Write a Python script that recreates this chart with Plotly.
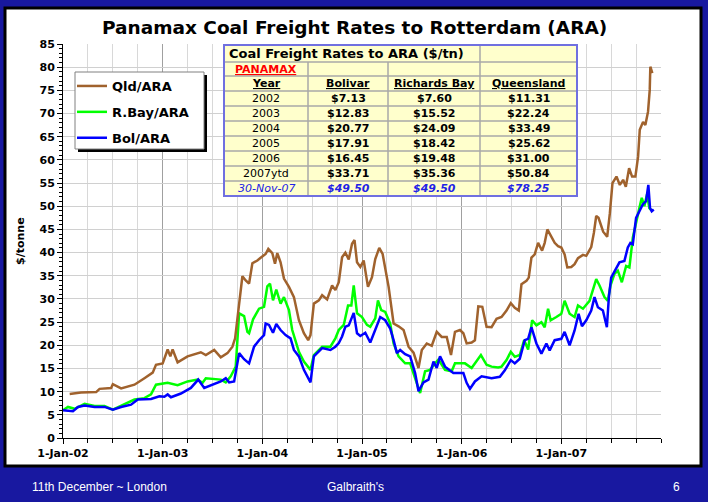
import plotly.graph_objects as go

# ---------------- data (decimal years, $/tonne) ----------------
qld_t = [2002.067, 2002.18, 2002.333, 2002.367, 2002.483, 2002.5, 2002.583, 2002.717, 2002.817, 2002.9,
         2002.933, 2003.0, 2003.05, 2003.077, 2003.1, 2003.15, 2003.25, 2003.383, 2003.433, 2003.517,
         2003.583, 2003.65, 2003.7, 2003.727, 2003.76, 2003.8, 2003.833, 2003.867, 2003.9, 2003.95,
         2003.983, 2004.033, 2004.06, 2004.1, 2004.127, 2004.15, 2004.183, 2004.217, 2004.267, 2004.317,
         2004.367, 2004.417, 2004.46, 2004.483, 2004.517, 2004.567, 2004.6, 2004.65, 2004.7, 2004.733,
         2004.767, 2004.8, 2004.833, 2004.867, 2004.9, 2004.925, 2004.95, 2004.983, 2005.017, 2005.06,
         2005.1, 2005.133, 2005.173, 2005.207, 2005.267, 2005.317, 2005.367, 2005.417, 2005.467, 2005.517,
         2005.567, 2005.6, 2005.65, 2005.7, 2005.75, 2005.8, 2005.85, 2005.893, 2005.933, 2005.983,
         2006.017, 2006.05, 2006.1, 2006.133, 2006.167, 2006.207, 2006.25, 2006.3, 2006.35, 2006.4,
         2006.45, 2006.493, 2006.533, 2006.573, 2006.6, 2006.65, 2006.673, 2006.7, 2006.733, 2006.767,
         2006.807, 2006.833, 2006.86, 2006.9, 2006.933, 2006.967, 2007.0, 2007.033, 2007.06, 2007.1,
         2007.133, 2007.167, 2007.217, 2007.25, 2007.3, 2007.327, 2007.35, 2007.373, 2007.42, 2007.46,
         2007.487, 2007.513, 2007.553, 2007.587, 2007.62, 2007.647, 2007.68, 2007.71, 2007.743, 2007.77,
         2007.787, 2007.82, 2007.843, 2007.87, 2007.887, 2007.893, 2007.913]
qld_v = [9.5, 9.8, 9.9, 10.6, 10.8, 11.6, 10.7, 11.5, 12.9, 14.1,
         15.8, 16.1, 19.1, 17.6, 19.1, 16.3, 17.6, 18.5, 17.9, 19.0,
         17.4, 18.3, 19.7, 21.5, 27.6, 34.9, 34.0, 33.3, 37.7, 38.3,
         38.9, 39.7, 40.8, 39.9, 37.6, 39.9, 37.9, 34.4, 32.6, 30.4,
         25.4, 22.6, 21.1, 22.2, 29.0, 29.7, 30.8, 29.9, 32.9, 31.9,
         33.6, 39.0, 40.0, 38.5, 41.9, 42.7, 37.9, 36.9, 38.3, 32.6,
         34.7, 38.6, 41.0, 39.7, 32.6, 24.7, 24.1, 23.3, 19.7, 18.4,
         15.1, 19.0, 20.4, 19.9, 22.9, 21.8, 21.8, 17.9, 22.9, 23.3,
         22.6, 20.4, 20.6, 21.1, 28.4, 28.3, 24.0, 23.9, 25.7, 26.1,
         27.5, 29.1, 28.1, 27.5, 33.2, 33.9, 34.6, 38.9, 39.6, 42.1,
         40.4, 42.1, 45.0, 43.4, 42.1, 41.4, 41.1, 39.6, 36.8, 36.9,
         37.5, 38.8, 39.5, 39.3, 41.2, 44.3, 47.9, 47.5, 44.5, 43.4,
         48.5, 55.0, 56.4, 54.6, 55.7, 54.2, 58.2, 56.4, 56.4, 60.7,
         66.5, 68.2, 67.5, 70.4, 75.1, 80.1, 78.7]

rbay_t = [2002.0, 2002.05, 2002.117, 2002.217, 2002.317, 2002.417, 2002.5, 2002.617, 2002.717, 2002.817,
          2002.883, 2002.933, 2003.05, 2003.15, 2003.25, 2003.35, 2003.4, 2003.433, 2003.5, 2003.583,
          2003.633, 2003.683, 2003.733, 2003.767, 2003.817, 2003.85, 2003.867, 2003.907, 2003.967, 2004.017,
          2004.05, 2004.077, 2004.107, 2004.14, 2004.183, 2004.217, 2004.267, 2004.3, 2004.367, 2004.417,
          2004.483, 2004.517, 2004.6, 2004.683, 2004.733, 2004.767, 2004.817, 2004.86, 2004.893, 2004.917,
          2004.95, 2005.0, 2005.05, 2005.083, 2005.133, 2005.16, 2005.193, 2005.233, 2005.283, 2005.317,
          2005.367, 2005.433, 2005.483, 2005.54, 2005.583, 2005.633, 2005.683, 2005.733, 2005.767, 2005.833,
          2005.9, 2005.933, 2006.033, 2006.1, 2006.15, 2006.193, 2006.25, 2006.3, 2006.367, 2006.4,
          2006.45, 2006.493, 2006.533, 2006.583, 2006.627, 2006.667, 2006.707, 2006.75, 2006.8, 2006.833,
          2006.867, 2006.893, 2006.95, 2007.0, 2007.033, 2007.083, 2007.133, 2007.167, 2007.217, 2007.283,
          2007.35, 2007.383, 2007.433, 2007.467, 2007.493, 2007.533, 2007.567, 2007.607, 2007.65, 2007.683,
          2007.717, 2007.75, 2007.783, 2007.807, 2007.833, 2007.86, 2007.883, 2007.917]
rbay_v = [6.0, 6.7, 6.3, 7.4, 6.9, 6.9, 6.1, 7.2, 8.3, 8.6,
          9.4, 11.5, 11.9, 11.4, 12.2, 12.6, 11.9, 12.9, 12.8, 12.6,
          12.0, 13.3, 15.4, 26.9, 26.3, 22.9, 22.6, 25.6, 27.9, 28.3,
          32.7, 33.3, 29.7, 32.0, 29.0, 30.4, 27.6, 23.3, 18.6, 16.5,
          14.7, 17.9, 19.7, 19.7, 21.5, 23.3, 24.4, 28.6, 28.6, 32.9,
          26.9, 26.1, 24.4, 24.0, 25.8, 29.7, 27.6, 27.2, 24.7, 20.4,
          17.6, 16.1, 16.1, 12.6, 9.7, 14.4, 14.7, 16.1, 16.9, 14.7,
          14.4, 16.1, 16.1, 15.1, 16.5, 17.9, 15.8, 15.4, 15.2, 15.4,
          16.8, 18.6, 17.5, 17.9, 21.1, 19.1, 25.4, 24.3, 25.0, 23.9,
          27.9, 25.4, 26.1, 26.8, 29.6, 26.8, 26.1, 28.6, 27.9, 29.6,
          34.3, 32.9, 30.4, 29.6, 32.9, 35.4, 36.1, 33.6, 37.1, 36.8,
          43.2, 46.8, 49.6, 51.8, 50.0, 52.6, 49.6, 48.9]

bol_t = [2002.0, 2002.1, 2002.15, 2002.217, 2002.317, 2002.417, 2002.5, 2002.583, 2002.683, 2002.75,
         2002.883, 2002.967, 2003.017, 2003.05, 2003.083, 2003.183, 2003.283, 2003.357, 2003.417, 2003.517,
         2003.583, 2003.633, 2003.667, 2003.717, 2003.767, 2003.817, 2003.867, 2003.917, 2003.967, 2004.017,
         2004.033, 2004.067, 2004.107, 2004.14, 2004.183, 2004.233, 2004.283, 2004.317, 2004.367, 2004.417,
         2004.483, 2004.517, 2004.6, 2004.683, 2004.733, 2004.767, 2004.8, 2004.833, 2004.867, 2004.917,
         2004.95, 2004.983, 2005.033, 2005.083, 2005.133, 2005.183, 2005.233, 2005.283, 2005.317, 2005.35,
         2005.383, 2005.433, 2005.483, 2005.533, 2005.567, 2005.617, 2005.667, 2005.717, 2005.75, 2005.783,
         2005.833, 2005.917, 2006.017, 2006.05, 2006.083, 2006.133, 2006.2, 2006.3, 2006.383, 2006.433,
         2006.493, 2006.533, 2006.583, 2006.633, 2006.667, 2006.7, 2006.75, 2006.8, 2006.85, 2006.883,
         2006.933, 2007.0, 2007.033, 2007.083, 2007.133, 2007.173, 2007.207, 2007.25, 2007.3, 2007.333,
         2007.367, 2007.417, 2007.457, 2007.477, 2007.5, 2007.55, 2007.583, 2007.633, 2007.667, 2007.693,
         2007.717, 2007.75, 2007.783, 2007.817, 2007.85, 2007.873, 2007.89, 2007.907, 2007.927]
bol_v = [6.0, 5.8, 6.7, 7.0, 6.7, 6.7, 6.1, 6.7, 7.2, 8.3,
         8.4, 9.0, 8.9, 9.4, 8.8, 9.6, 10.8, 12.6, 10.8, 11.7,
         12.2, 12.9, 12.0, 12.2, 18.3, 17.0, 16.1, 19.7, 21.1, 22.2,
         24.7, 24.4, 22.7, 24.6, 23.3, 22.2, 21.5, 19.0, 17.6, 14.7,
         12.0, 17.6, 19.4, 19.0, 19.7, 20.5, 21.9, 24.0, 24.3, 27.0,
         22.6, 22.0, 22.7, 20.6, 23.3, 26.1, 25.4, 23.6, 21.1, 18.3,
         19.0, 18.1, 17.6, 14.0, 10.1, 12.0, 12.6, 16.5, 15.1, 17.6,
         15.4, 14.0, 14.0, 11.9, 10.6, 12.2, 13.3, 12.9, 13.2, 14.6,
         16.8, 16.1, 17.1, 21.1, 21.4, 23.9, 20.4, 18.2, 20.4, 18.9,
         21.1, 21.4, 22.9, 20.0, 23.2, 26.8, 24.1, 25.4, 27.5, 30.4,
         28.2, 27.5, 23.9, 30.4, 34.6, 36.4, 37.9, 38.2, 41.1, 42.1,
         41.8, 47.5, 49.1, 50.4, 51.1, 54.6, 49.6, 48.9, 49.3]

x_tick_vals = [2002, 2003, 2004, 2005, 2006, 2007]
x_tick_text = ["1-Jan-02", "1-Jan-03", "1-Jan-04", "1-Jan-05", "1-Jan-06", "1-Jan-07"]

table_title = "Coal Freight Rates to ARA ($/tn)"
table_sub = "PANAMAX"
table_headers = ["Year", "Bolivar", "Richards Bay", "Queensland"]
table_years = ["2002", "2003", "2004", "2005", "2006", "2007ytd", "30-Nov-07"]
table_bolivar = ["$7.13", "$12.83", "$20.77", "$17.91", "$16.45", "$33.71", "$49.50"]
table_richards = ["$7.60", "$15.52", "$24.09", "$18.42", "$19.48", "$35.36", "$49.50"]
table_queensland = ["$11.31", "$22.24", "$33.49", "$25.62", "$31.00", "$50.84", "$78.25"]

# ---------------- layout geometry ----------------
W, H = 708, 502
ML, MR, MT, MB = 63, 47, 44, 64
PW, PH = W - ML - MR, H - MT - MB


def px(x):
    return (x - ML) / PW


def py(y):
    return (H - MB - y) / PH


FONT = "DejaVu Sans"
BROWN, GREEN, BLUE = "#A0622D", "#00FF00", "#0000FF"

fig = go.Figure()
fig.add_trace(go.Scatter(x=rbay_t, y=rbay_v, mode="lines", name="R.Bay/ARA", legendrank=2,
                         legendgroup="b", line=dict(color=GREEN, width=2.5)))
fig.add_trace(go.Scatter(x=bol_t, y=bol_v, mode="lines", name="Bol/ARA", legendrank=3,
                         legendgroup="c", line=dict(color=BLUE, width=2.5)))
fig.add_trace(go.Scatter(x=qld_t, y=qld_v, mode="lines", name="Qld/ARA", legendrank=1,
                         legendgroup="a", line=dict(color=BROWN, width=2.5)))

shapes = []
# white slide panel
shapes.append(dict(type="rect", xref="paper", yref="paper", layer="below",
                   x0=px(5), x1=px(701), y0=py(466), y1=py(8),
                   fillcolor="white", line=dict(color="black", width=3)))
# legend box with shadow
shapes.append(dict(type="rect", xref="paper", yref="paper", layer="above",
                   x0=px(78), x1=px(207), y0=py(152), y1=py(75),
                   fillcolor="black", line=dict(width=0)))
shapes.append(dict(type="rect", xref="paper", yref="paper", layer="above",
                   x0=px(75), x1=px(204), y0=py(149), y1=py(72),
                   fillcolor="white", line=dict(color="#808080", width=1)))

# table
col_b = [224, 308, 388, 480, 577]
row_b = [45, 62, 76, 91, 106, 121, 136, 151, 166, 181, 196]
GRID = "#A8A8A8"
shapes.append(dict(type="rect", xref="paper", yref="paper", layer="above",
                   x0=px(col_b[0]), x1=px(col_b[-1]), y0=py(row_b[-1]), y1=py(row_b[0]),
                   fillcolor="#FFFFCC", line=dict(width=0)))
for yb in row_b[1:-1]:
    shapes.append(dict(type="line", xref="paper", yref="paper", layer="above",
                       x0=px(col_b[0]), x1=px(col_b[-1]), y0=py(yb), y1=py(yb),
                       line=dict(color=GRID, width=1.5)))
for xb in col_b[1:-1]:
    ystart = row_b[0] if xb == 480 else row_b[1]
    shapes.append(dict(type="line", xref="paper", yref="paper", layer="above",
                       x0=px(xb), x1=px(xb), y0=py(ystart), y1=py(row_b[-1]),
                       line=dict(color=GRID, width=1.5)))
shapes.append(dict(type="rect", xref="paper", yref="paper", layer="above",
                   x0=px(col_b[0]), x1=px(col_b[-1]), y0=py(row_b[-1]), y1=py(row_b[0]),
                   fillcolor="rgba(0,0,0,0)", line=dict(color="#7070E0", width=2)))

ann = []


def text(x, y, s, size=11, color="black", bold=False, italic=False, xanchor="center", family=FONT, angle=0):
    ann.append(dict(x=px(x), y=py(y), xref="paper", yref="paper", text=s, showarrow=False,
                    xanchor=xanchor, yanchor="middle", textangle=angle,
                    font=dict(family=family, size=size, color=color,
                              weight="bold" if bold else "normal",
                              style="italic" if italic else "normal")))


# title & axis title
text(354, 27, "Panamax Coal Freight Rates to Rotterdam (ARA)", size=18.5, bold=True)
text(20, 241, "$/tonne", size=11, bold=True, angle=-90)

# table text
text(227, (row_b[0] + row_b[1]) / 2, table_title, size=13, bold=True, xanchor="left")
col_c = [(col_b[i] + col_b[i + 1]) / 2 for i in range(4)]
text(col_c[0], (row_b[1] + row_b[2]) / 2, "<u>" + table_sub + "</u>", size=11, color="#FF0000", bold=True)
for c, h in zip(col_c, table_headers):
    text(c, (row_b[2] + row_b[3]) / 2, "<u>" + h + "</u>", bold=True)
n = len(table_years)
for r in range(n):
    yc = (row_b[3 + r] + row_b[4 + r]) / 2
    last = r == n - 1
    col = "#2222E6" if last else "black"
    text(col_c[0], yc, table_years[r], color=col, italic=last)
    text(col_c[1], yc, table_bolivar[r], color=col, bold=True, italic=last)
    text(col_c[2], yc, table_richards[r], color=col, bold=True, italic=last)
    text(col_c[3], yc, table_queensland[r], color=col, bold=True, italic=last)

# footer
text(30, 487, "11th December ~ London", size=12, color="white", xanchor="left", family="Liberation Sans")
text(355, 487, "Galbraith's", size=12, color="white", family="Liberation Sans")
text(676, 487, "6", size=12, color="white", family="Liberation Sans")

fig.update_layout(
    width=W, height=H,
    margin=dict(l=ML, r=MR, t=MT, b=MB, pad=0),
    paper_bgcolor="#1818A0",
    plot_bgcolor="white",
    showlegend=True,
    legend=dict(x=px(72), y=py(71), xanchor="left", yanchor="top",
                bgcolor="rgba(0,0,0,0)", borderwidth=0,
                traceorder="grouped", tracegroupgap=6,
                font=dict(family=FONT, size=13, color="black", weight="bold"),
                itemwidth=30),
    shapes=shapes,
    annotations=ann,
    xaxis=dict(range=[2002, 2008], tickmode="array", tickvals=x_tick_vals, ticktext=x_tick_text,
               ticks="outside", ticklen=5, tickcolor="black", tickwidth=1,
               showline=True, linecolor="black", linewidth=1,
               showgrid=True, gridcolor="#A0A0A0", gridwidth=1, zeroline=False,
               tickfont=dict(family=FONT, size=11, color="black", weight="bold"),
               minor=dict(tickmode="linear", tick0=2002, dtick=0.25, ticks="outside", ticklen=4,
                          tickcolor="black", showgrid=True, gridcolor="#D8D8D8", gridwidth=1)),
    yaxis=dict(range=[0, 85], tickmode="linear", tick0=0, dtick=5,
               ticks="outside", ticklen=5, tickcolor="black", tickwidth=1,
               showline=True, linecolor="black", linewidth=1,
               showgrid=True, gridcolor="#D0D0D0", gridwidth=1, zeroline=False,
               tickfont=dict(family=FONT, size=11, color="black", weight="bold"),
               minor=dict(tickmode="linear", dtick=1, ticks="outside", ticklen=3,
                          tickcolor="black", showgrid=False)),
)

fig.write_html("out.html")
